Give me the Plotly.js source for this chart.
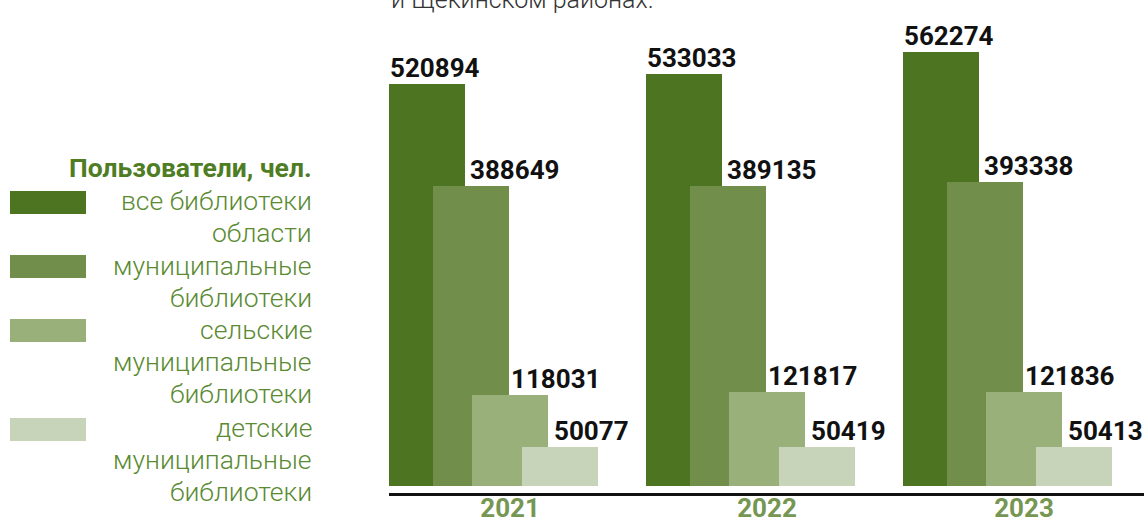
<!DOCTYPE html>
<html>
<head>
<meta charset="utf-8">
<script src="https://cdn.plot.ly/plotly-3.0.1.min.js"></script>
<style>html,body{margin:0;padding:0;background:#fff;}#chart{width:1144px;height:522px;}</style>
</head>
<body>
<div id="chart"></div>
<script>
// ---- data ----
const years = ['2021', '2022', '2023'];
const seriesNames = [
  'все библиотеки<br>области',
  'муниципальные<br>библиотеки',
  'сельские<br>муниципальные<br>библиотеки',
  'детские<br>муниципальные<br>библиотеки'
];
const allLibraries = [520894, 533033, 562274];
const municipalLibraries = [388649, 389135, 393338];
const ruralLibraries = [118031, 121817, 121836];
const childrenLibraries = [50077, 50419, 50413];
const legendTitle = 'Пользователи, чел.';
const captionTail = 'и Щекинском районах.';

// ---- style / layout ----
const W = 1144, H = 522;
const M = {l: 389, r: 0, t: 20, b: 29};
const plotW = W - M.l - M.r, plotH = H - M.t - M.b;
const colors = ['#4d7421', '#718f4a', '#9ab07b', '#c8d4b9'];
const offsets = [-0.471, -0.300, -0.148, 0.047];
const barW = 0.296;
const labelFrac = [0.0, 0.48, 0.5, 0.41];
const seriesValues = [allLibraries, municipalLibraries, ruralLibraries, childrenLibraries];

const pxX = px => (px - M.l) / plotW;
const pxY = py => 1 - (py - M.t) / plotH;

const traces = seriesValues.map((vals, s) => ({
  type: 'bar',
  x: years,
  y: vals,
  name: seriesNames[s],
  offset: offsets[s],
  width: barW,
  marker: {color: colors[s], line: {width: 0}},
  showlegend: false,
  hoverinfo: 'none'
}));

const annotations = [];
seriesValues.forEach((vals, s) => {
  vals.forEach((v, i) => {
    annotations.push({
      x: i + offsets[s] + labelFrac[s] * barW,
      y: v,
      xref: 'x', yref: 'y',
      xanchor: 'left', yanchor: 'bottom',
      text: String(v),
      showarrow: false,
      borderpad: 0,
      font: {family: 'Roboto', size: 26, weight: 700, color: '#111111'}
    });
  });
});

// legend title
annotations.push({
  x: pxX(313), y: pxY(151), xref: 'paper', yref: 'paper',
  xanchor: 'right', yanchor: 'top', align: 'right',
  text: '<b>' + legendTitle + '</b>', showarrow: false, borderpad: 0,
  font: {family: 'Roboto', size: 26.5, color: '#4f7d24'}
});

// legend items
const swatchTops = [191, 255, 319, 418];
const firstBaselines = [208, 273, 337, 435];
const lineStep = 32;
const shapes = [];
seriesNames.forEach((name, s) => {
  const top = swatchTops[s];
  shapes.push({
    type: 'rect', xref: 'paper', yref: 'paper',
    x0: pxX(10), x1: pxX(86), y0: pxY(top), y1: pxY(top + 23),
    fillcolor: colors[s], line: {width: 0}
  });
  name.split('<br>').forEach((line, k) => {
    const base = firstBaselines[s] + k * lineStep;
    annotations.push({
      x: pxX(313), y: pxY(base - 24.5), xref: 'paper', yref: 'paper',
      xanchor: 'right', yanchor: 'top', align: 'right',
      text: line, showarrow: false, borderpad: 0,
      font: {family: 'Roboto', size: 26.5, weight: 300, color: '#5a8a31'}
    });
  });
});

// cut-off caption at top
annotations.push({
  x: pxX(390), y: 1, xref: 'paper', yref: 'paper',
  xanchor: 'left', yanchor: 'bottom', yshift: 5,
  text: captionTail, showarrow: false, borderpad: 0,
  font: {family: 'Roboto', size: 25, weight: 300, color: '#333333'}
});

const layout = {
  width: W, height: H,
  margin: M,
  paper_bgcolor: '#ffffff', plot_bgcolor: '#ffffff',
  barmode: 'overlay',
  bargap: 0,
  xaxis: {
    type: 'category',
    range: [-0.471, 2.467],
    showline: true, linecolor: '#111111', linewidth: 3,
    ticks: '', showgrid: false, zeroline: false,
    ticklabelstandoff: -10,
    tickfont: {family: 'Roboto', size: 26, weight: 700, color: '#769653'},
    fixedrange: true
  },
  yaxis: {
    range: [-9065, 603470],
    visible: false, showgrid: false, zeroline: false, fixedrange: true
  },
  annotations: annotations,
  shapes: shapes,
  showlegend: false
};

Plotly.newPlot('chart', traces, layout, {displayModeBar: false, staticPlot: true});
</script>
</body>
</html>
